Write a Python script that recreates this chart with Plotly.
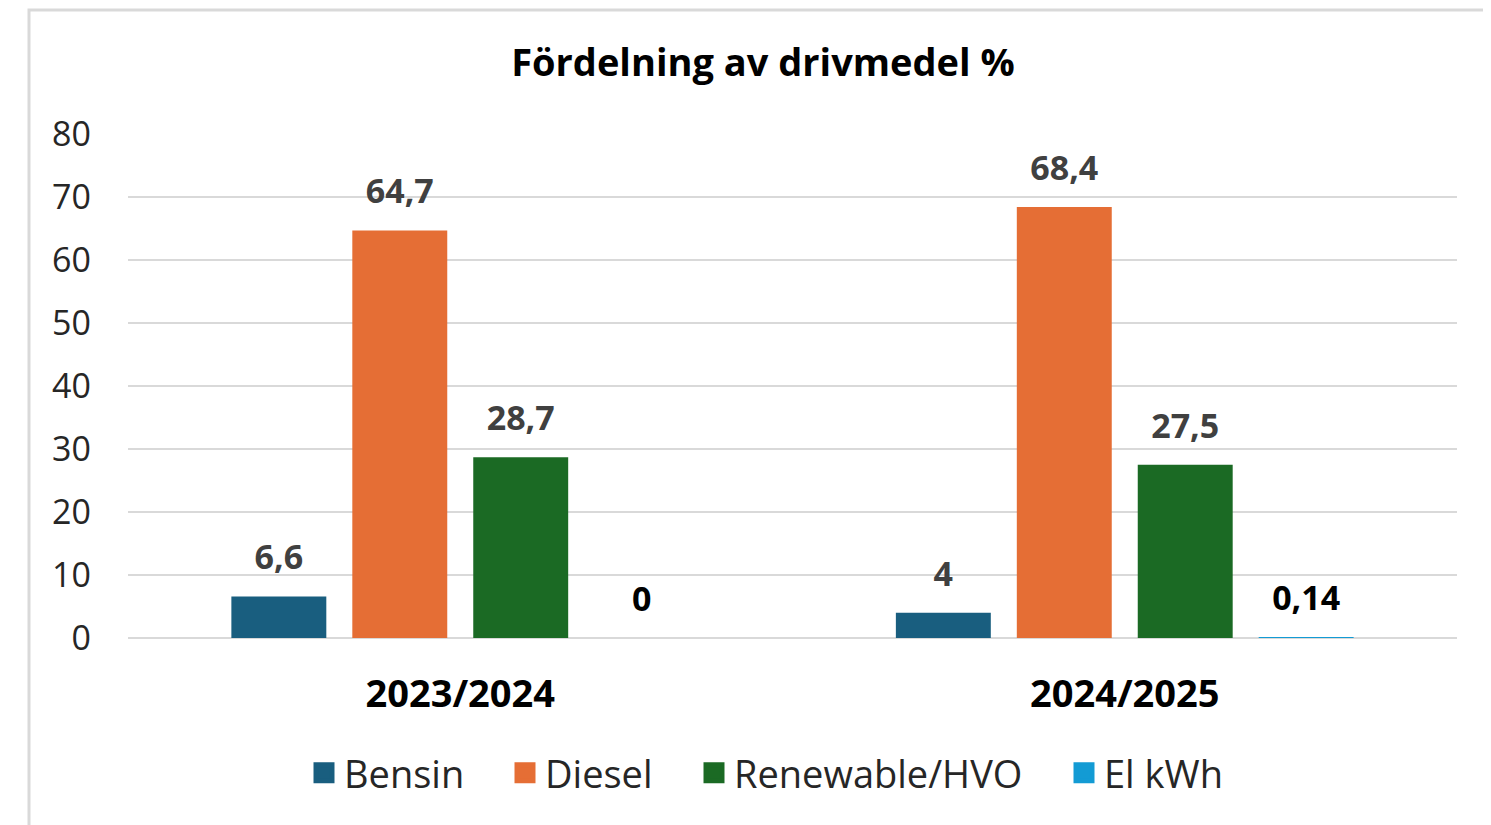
import plotly.graph_objects as go

categories = ["2023/2024", "2024/2025"]
series_names = ["Bensin", "Diesel", "Renewable/HVO", "El kWh"]
bensin = [6.6, 4]
diesel = [64.7, 68.4]
renewable = [28.7, 27.5]
el_kwh = [0, 0.14]
label_bensin = ["6,6", "4"]
label_diesel = ["64,7", "68,4"]
label_renewable = ["28,7", "27,5"]
label_el = ["0", "0,14"]
y_ticks = [0, 10, 20, 30, 40, 50, 60, 70, 80]

colors = ["#195e7f", "#e56e35", "#1b6a24", "#139bd4"]
label_colors = ["#404040", "#404040", "#404040", "#000000"]
values = [bensin, diesel, renewable, el_kwh]
labels = [label_bensin, label_diesel, label_renewable, label_el]

FONT = "Open Sans"
W, H = 1491, 825
OFF = 8  # page body margin offset
L, T = 128 - OFF, 134 - OFF
R = W - (1457 - OFF)
B = H - (638 - OFF)
PW, PH = W - L - R, H - T - B


def px_x(sx):
    return (sx - OFF - L) / PW


def px_y(sy):
    return (H - B - (sy - OFF)) / PH


fig = go.Figure()

for name, vals, col in zip(series_names, values, colors):
    fig.add_trace(go.Bar(
        x=categories, y=vals, name=name, marker_color=col,
        marker_line_width=0, showlegend=False, hoverinfo="x+y+name",
    ))

# value labels, grouped like the bars
for name, vals, labs, lc in zip(series_names, values, labels, label_colors):
    fig.add_trace(go.Scatter(
        x=categories, y=vals, mode="markers+text", text=labs,
        textposition="top center",
        textfont=dict(family=FONT, size=34, color=lc, weight="bold"),
        marker=dict(size=28, color="rgba(0,0,0,0)"),
        showlegend=False, hoverinfo="skip", cliponaxis=False,
    ))

# legend entries with larger square swatches (separate hidden axes), one legend each
legend_names = ["legend", "legend2", "legend3", "legend4"]
swatch_left = [313, 514, 703, 1073]
for name, col, lg in zip(series_names, colors, legend_names):
    fig.add_trace(go.Scatter(
        x=[None], y=[None], mode="markers", name=name,
        marker=dict(symbol="square", size=16, color=col,
                    line=dict(color=col, width=5)),
        xaxis="x2", yaxis="y2", showlegend=True, legend=lg,
    ))

legend_layout = {}
for lg, sl in zip(legend_names, swatch_left):
    legend_layout[lg] = dict(
        orientation="h", x=px_x(sl - 9), xanchor="left",
        y=px_y(773), yanchor="middle",
        font=dict(family=FONT, size=38, color="#262626"),
        itemclick=False, itemdoubleclick=False,
        bgcolor="rgba(0,0,0,0)", borderwidth=0,
    )

fig.update_layout(
    width=W, height=H,
    margin=dict(l=L, r=R, t=T, b=B),
    paper_bgcolor="white", plot_bgcolor="white",
    barmode="group", bargap=0.272, bargroupgap=0.215,
    scattermode="group", scattergap=0.272,
    font=dict(family=FONT, color="#262626"),
    title=dict(
        text="<b>Fördelning av drivmedel %</b>",
        font=dict(family=FONT, size=38, color="#000000"),
        x=(763 - OFF) / W, xref="container", xanchor="center",
        y=1 - (63 - OFF) / H, yref="container", yanchor="middle",
    ),
    xaxis=dict(
        type="category", showgrid=False, showline=False, zeroline=False,
        ticks="", tickfont=dict(family=FONT, size=38, color="#000000", weight="bold"),
        ticklabelstandoff=30,
    ),
    yaxis=dict(
        range=[0, 80], tickvals=y_ticks, showline=False,
        gridcolor="#d9d9d9", gridwidth=2,
        zeroline=True, zerolinecolor="#d9d9d9", zerolinewidth=2,
        tickfont=dict(family=FONT, size=34, color="#262626"),
        ticks="", ticklabelstandoff=36,
    ),
    xaxis2=dict(overlaying="x", visible=False, range=[0, 1]),
    yaxis2=dict(overlaying="y", visible=False, range=[0, 1]),
    shapes=[dict(
        type="rect", xref="paper", yref="paper",
        x0=px_x(29), x1=px_x(W + 20),
        y0=px_y(H + 20), y1=px_y(10),
        line=dict(color="#d9d9d9", width=3), fillcolor="rgba(0,0,0,0)",
        layer="below",
    )],
    **legend_layout,
)

fig.write_html("out.html")
